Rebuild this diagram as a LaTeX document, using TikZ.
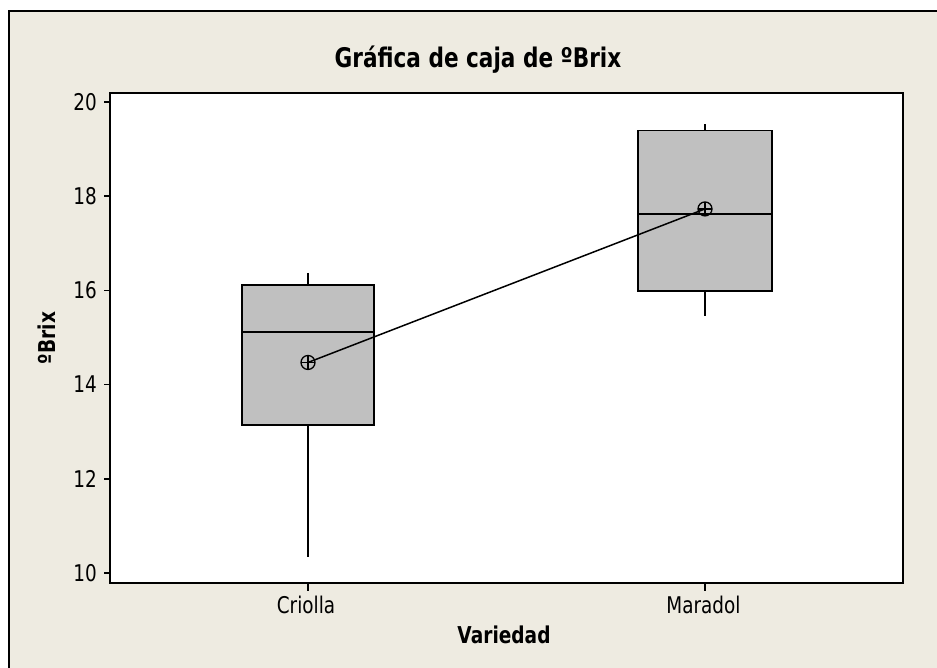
\documentclass[tikz,border=0pt]{standalone}
\usepackage{fontspec}
\usepackage{graphicx}
\setmainfont{DejaVu Sans}
\definecolor{panelbg}{RGB}{238,235,225}
\definecolor{boxfill}{RGB}{192,192,192}
\newcommand\hsq[1]{\scalebox{0.8}[1]{#1}}
\tikzset{
  frameline/.style={line width=2pt},
  boxline/.style={line width=1.5pt},
  ticklab/.style={anchor=east, inner sep=0pt, font=\fontsize{23}{26}\selectfont},
  catlab/.style={anchor=base, inner sep=0pt, font=\fontsize{23}{26}\selectfont},
  axlab/.style={anchor=base, inner sep=0pt, font=\fontsize{23.2}{27}\selectfont\bfseries},
  titlelab/.style={anchor=base, inner sep=0pt, font=\fontsize{27}{32}\selectfont\bfseries},
  meanmark/.style={circle, draw, line width=1.3pt, minimum size=14pt, inner sep=0pt,
    path picture={\draw[line width=1.3pt] (path picture bounding box.north) -- (path picture bounding box.south)
      (path picture bounding box.west) -- (path picture bounding box.east);}}
}
\begin{document}
\begin{tikzpicture}[x=1pt,y=-1pt]
\useasboundingbox (0,0) rectangle (937,667);
\clip (0,0) rectangle (937,667);
\fill[white] (0,0) rectangle (937,667);
% outer panel
\fill[panelbg] (9,11) rectangle (960,690);
\draw[frameline] (9,690) -- (9,11) -- (960,11);
% plot area
\fill[white] (110,93) rectangle (903,583);
% title
\node[titlelab] (title) at (478,67.5) {\hsq{Gráfica de caja de ºBrix}};
% axis labels
\node[axlab] (xlab) at (504,643) {\hsq{Variedad}};
\node[axlab, rotate=90] (ylab) at (55,338) {\hsq{ºBrix}};
% data scope: x in px, y in value-10
\begin{scope}[shift={(0,573)}, y=47.1pt]
  % y ticks
  \foreach \v/\n in {10/t10,12/t12,14/t14,16/t16,18/t18,20/t20}{
    \draw[boxline] (104,\v-10) -- (110,\v-10);
    \node[ticklab] (\n) at (97,\v-10) {\hsq{\v}};
  }
  % Criolla
  \draw[boxline] (308,16.37-10) -- (308,16.11-10);
  \draw[boxline] (308,13.14-10) -- (308,10.34-10);
  \filldraw[boxline, fill=boxfill] (242,13.14-10) rectangle (374,16.11-10);
  \draw[boxline] (242,15.12-10) -- (374,15.12-10);
  % Maradol
  \draw[boxline] (705,19.53-10) -- (705,19.39-10);
  \draw[boxline] (705,15.99-10) -- (705,15.46-10);
  \filldraw[boxline, fill=boxfill] (638,15.99-10) rectangle (772,19.39-10);
  \draw[boxline] (638,17.62-10) -- (772,17.62-10);
  % means
  \node[meanmark] (m1) at (308,14.47-10) {};
  \node[meanmark] (m2) at (705,17.73-10) {};
  \draw[boxline] (m1.center) -- (m2.center);
\end{scope}
% x ticks and labels
\draw[boxline] (308,583) -- (308,591);
\draw[boxline] (705,583) -- (705,591);
\node[catlab] (c1) at (306,613) {\hsq{Criolla}};
\node[catlab] (c2) at (703.5,613) {\hsq{Maradol}};
% plot frame
\draw[frameline] (110,93) rectangle (903,583);
\end{tikzpicture}
\end{document}
